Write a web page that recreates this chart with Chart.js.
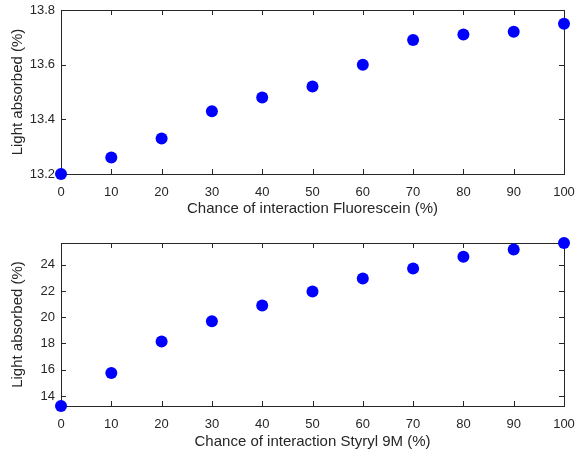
<!DOCTYPE html>
<html>
<head>
<meta charset="utf-8">
<script src="https://cdn.jsdelivr.net/npm/chart.js@4"></script>
<style>
  html, body { margin: 0; padding: 0; background: #fff; }
  #wrap { position: relative; width: 577px; height: 454px; }
  canvas { position: absolute; left: 0; }
</style>
</head>
<body>
<div id="wrap">
  <canvas id="topChart" width="577" height="227" style="top:0"></canvas>
  <canvas id="bottomChart" width="577" height="227" style="top:227px"></canvas>
</div>
<script>
  // Interaction chance (%) on the x axis, shared by both plots
  const chanceValues = [0, 10, 20, 30, 40, 50, 60, 70, 80, 90, 100];

  // Light absorbed (%)
  const fluoresceinAbsorbed = [13.20, 13.26, 13.33, 13.43, 13.48, 13.52, 13.60, 13.69, 13.71, 13.72, 13.75];
  const styrylAbsorbed = [13.24, 15.75, 18.15, 19.7, 20.9, 21.95, 22.95, 23.7, 24.6, 25.15, 25.65];

  // Tick labels
  const xTicks = [0, 10, 20, 30, 40, 50, 60, 70, 80, 90, 100];
  const fluoresceinTicks = [13.2, 13.4, 13.6, 13.8];
  const styrylTicks = [14, 16, 18, 20, 22, 24];

  const AXIS_COLOR = '#262626';
  const FONT = 'Liberation Sans, Arial, sans-serif';

  // MATLAB-like box with inward ticks on all four sides
  const boxTicks = {
    id: 'boxTicks',
    beforeDatasetsDraw(chart) {
      const { ctx, chartArea: a, scales: { x, y } } = chart;
      const len = 5;
      ctx.save();
      ctx.strokeStyle = AXIS_COLOR;
      ctx.lineWidth = 1;
      ctx.strokeRect(Math.round(a.left) + 0.5, Math.round(a.top) + 0.5,
        Math.round(a.right - a.left), Math.round(a.bottom - a.top));
      ctx.beginPath();
      x.ticks.forEach(t => {
        const px = Math.round(x.getPixelForValue(t.value)) + 0.5;
        ctx.moveTo(px, a.bottom); ctx.lineTo(px, a.bottom - len);
        ctx.moveTo(px, a.top); ctx.lineTo(px, a.top + len);
      });
      y.ticks.forEach(t => {
        const py = Math.round(y.getPixelForValue(t.value)) + 0.5;
        ctx.moveTo(a.left, py); ctx.lineTo(a.left + len, py);
        ctx.moveTo(a.right, py); ctx.lineTo(a.right - len, py);
      });
      ctx.stroke();
      ctx.restore();
    }
  };

  function makeChart(id, values, opts) {
    const ctx = document.getElementById(id).getContext('2d');
    return new Chart(ctx, {
      type: 'scatter',
      data: {
        datasets: [{
          data: chanceValues.map((c, i) => ({ x: c, y: values[i] })),
          backgroundColor: '#0000ff',
          borderWidth: 0,
          pointRadius: 6,
          pointHoverRadius: 6,
          clip: false
        }]
      },
      options: {
        responsive: false,
        animation: false,
        layout: { padding: { top: opts.padTop, right: 13, left: 0, bottom: 0 } },
        plugins: { legend: { display: false }, tooltip: { enabled: false } },
        scales: {
          x: {
            type: 'linear',
            min: 0,
            max: 100,
            afterBuildTicks: s => { s.ticks = xTicks.map(v => ({ value: v })); },
            afterFit: s => {
              s.height = opts.xHeight;
              s.paddingLeft = 0;
              s.paddingRight = 0;
            },
            grid: { display: false, drawTicks: false },
            border: { display: false },
            ticks: { color: AXIS_COLOR, font: { family: FONT, size: 13 }, padding: opts.xTickPad, maxRotation: 0 },
            title: {
              display: true,
              text: opts.xTitle,
              color: AXIS_COLOR,
              font: { family: FONT, size: 15 },
              padding: { top: 0, bottom: opts.xTitlePad }
            }
          },
          y: {
            type: 'linear',
            min: opts.yMin,
            max: opts.yMax,
            afterBuildTicks: s => { s.ticks = opts.yTicks.map(v => ({ value: v })); },
            afterFit: s => {
              s.width = 61;
              s.paddingTop = 0;
              s.paddingBottom = 0;
            },
            grid: { display: false, drawTicks: false },
            border: { display: false },
            ticks: {
              color: AXIS_COLOR,
              font: { family: FONT, size: 13 },
              padding: 6,
              callback: v => opts.yFormat(v)
            },
            title: {
              display: true,
              text: 'Light absorbed (%)',
              color: AXIS_COLOR,
              font: { family: FONT, size: 15 },
              padding: { top: 9, bottom: 0 }
            }
          }
        }
      },
      plugins: [boxTicks]
    });
  }

  makeChart('topChart', fluoresceinAbsorbed, {
    padTop: 10,
    xHeight: 53,
    xTickPad: 11,
    xTitlePad: 9,
    xTitle: 'Chance of interaction Fluorescein (%)',
    yMin: 13.2,
    yMax: 13.8,
    yTicks: fluoresceinTicks,
    yFormat: v => v.toFixed(1)
  });

  makeChart('bottomChart', styrylAbsorbed, {
    padTop: 16,
    xHeight: 48,
    xTickPad: 11,
    xTitlePad: 3,
    xTitle: 'Chance of interaction Styryl 9M (%)',
    yMin: 13.24,
    yMax: 25.65,
    yTicks: styrylTicks,
    yFormat: v => String(v)
  });
</script>
</body>
</html>
